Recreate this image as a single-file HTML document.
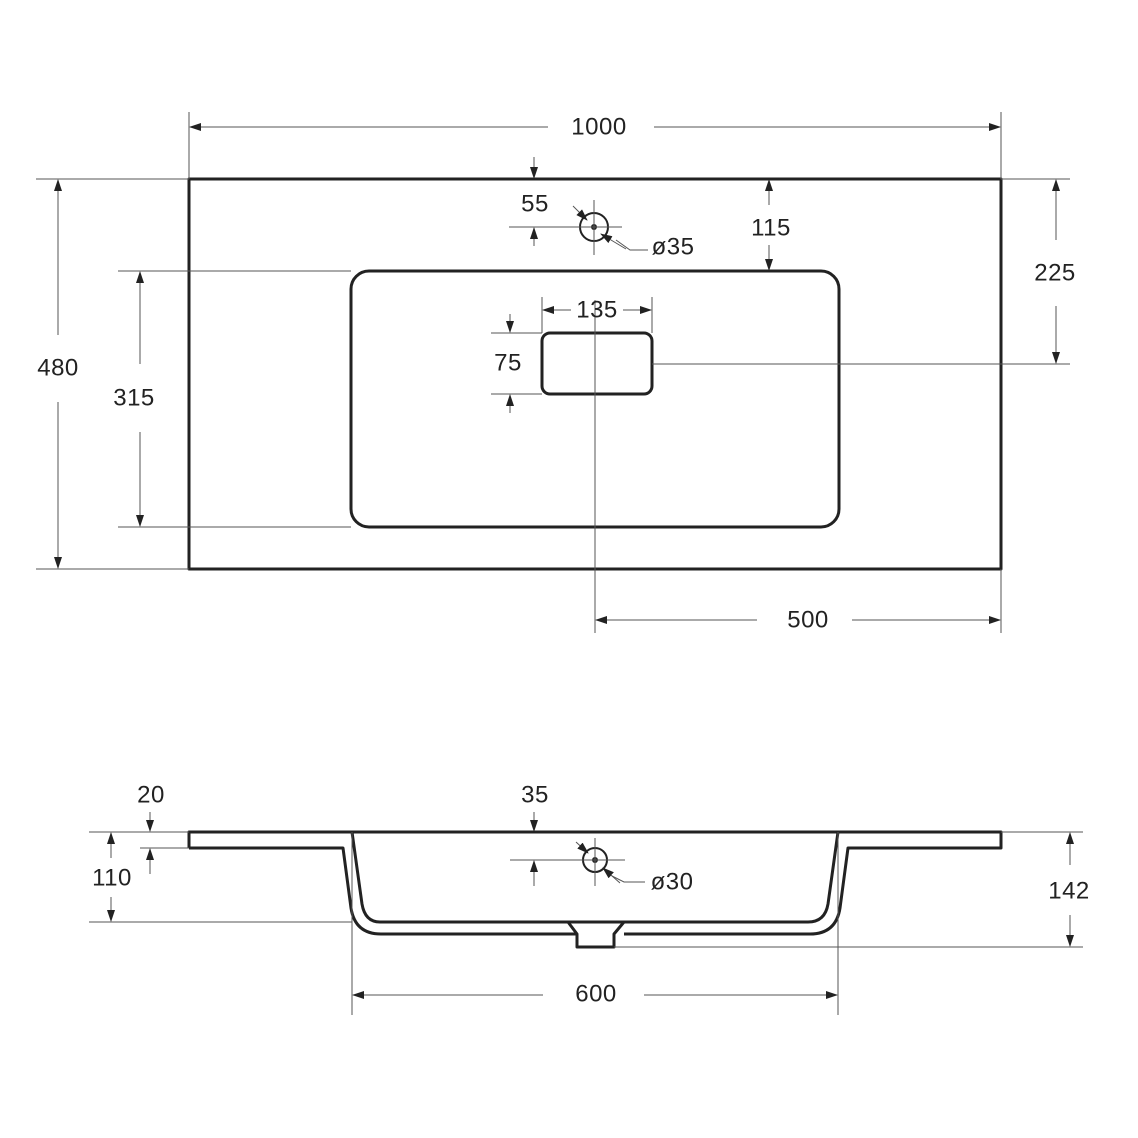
<!DOCTYPE html>
<html><head><meta charset="utf-8"><style>
html,body{margin:0;padding:0;background:#fff}
svg{display:block}
text{font-family:"Liberation Sans",sans-serif;font-size:24px;fill:#222;text-anchor:middle;dominant-baseline:central;letter-spacing:0.5px}
.t{stroke:#555;stroke-width:1;fill:none}
.k{stroke:#222;stroke-width:3;fill:none;stroke-linejoin:round}
</style></head><body>
<svg width="1138" height="1138" viewBox="0 0 1138 1138" xmlns="http://www.w3.org/2000/svg">
<defs>
<marker id="a" markerWidth="12" markerHeight="8" refX="11" refY="4" orient="auto-start-reverse" markerUnits="userSpaceOnUse"><path d="M0,0 L12,4 L0,8 Z" fill="#222"/></marker>
</defs>
<!-- TOP VIEW -->
<rect x="189" y="179" width="812" height="390" class="k"/>
<rect x="351" y="271" width="488" height="256" rx="18" class="k"/>
<rect x="542" y="333" width="110" height="61" rx="8" class="k"/>
<circle cx="594" cy="227" r="14" stroke="#222" stroke-width="2" fill="none"/>
<circle cx="594" cy="227" r="3" fill="#222"/>
<line x1="509" y1="227" x2="622" y2="227" class="t"/>
<line x1="594" y1="200" x2="594" y2="255" class="t"/>
<line x1="573" y1="206" x2="587" y2="220" class="t" marker-end="url(#a)"/>
<line x1="626" y1="249" x2="601" y2="234" class="t" marker-end="url(#a)"/>
<polyline points="616,240 630,250 648,250" class="t"/>
<text x="673" y="247">ø35</text>
<line x1="595" y1="300" x2="595" y2="633" class="t"/>
<line x1="652" y1="364" x2="1070" y2="364" class="t"/>
<!-- 1000 -->
<line x1="189" y1="112" x2="189" y2="179" class="t"/>
<line x1="1001" y1="112" x2="1001" y2="179" class="t"/>
<line x1="548" y1="127" x2="190" y2="127" class="t" marker-end="url(#a)"/>
<line x1="654" y1="127" x2="1000" y2="127" class="t" marker-end="url(#a)"/>
<text x="599" y="127">1000</text>
<!-- 480 -->
<line x1="36" y1="179" x2="189" y2="179" class="t"/>
<line x1="36" y1="569" x2="189" y2="569" class="t"/>
<line x1="58" y1="335" x2="58" y2="180" class="t" marker-end="url(#a)"/>
<line x1="58" y1="402" x2="58" y2="568" class="t" marker-end="url(#a)"/>
<text x="58" y="368">480</text>
<!-- 315 -->
<line x1="118" y1="271" x2="351" y2="271" class="t"/>
<line x1="118" y1="527" x2="351" y2="527" class="t"/>
<line x1="140" y1="364" x2="140" y2="272" class="t" marker-end="url(#a)"/>
<line x1="140" y1="432" x2="140" y2="526" class="t" marker-end="url(#a)"/>
<text x="134" y="398">315</text>
<!-- 225 -->
<line x1="1001" y1="179" x2="1070" y2="179" class="t"/>
<line x1="1056" y1="240" x2="1056" y2="180" class="t" marker-end="url(#a)"/>
<line x1="1056" y1="306" x2="1056" y2="363" class="t" marker-end="url(#a)"/>
<text x="1055" y="273">225</text>
<!-- 115 -->
<line x1="769" y1="205" x2="769" y2="180" class="t" marker-end="url(#a)"/>
<line x1="769" y1="245" x2="769" y2="270" class="t" marker-end="url(#a)"/>
<text x="771" y="228">115</text>
<!-- 55 -->
<line x1="534" y1="157" x2="534" y2="178" class="t" marker-end="url(#a)"/>
<line x1="534" y1="246" x2="534" y2="228" class="t" marker-end="url(#a)"/>
<text x="535" y="204">55</text>
<!-- 135 -->
<line x1="542" y1="297" x2="542" y2="333" class="t"/>
<line x1="652" y1="297" x2="652" y2="333" class="t"/>
<line x1="571" y1="310" x2="543" y2="310" class="t" marker-end="url(#a)"/>
<line x1="623" y1="310" x2="651" y2="310" class="t" marker-end="url(#a)"/>
<text x="597" y="310">135</text>
<!-- 75 -->
<line x1="491" y1="333" x2="542" y2="333" class="t"/>
<line x1="491" y1="394" x2="542" y2="394" class="t"/>
<line x1="510" y1="314" x2="510" y2="332" class="t" marker-end="url(#a)"/>
<line x1="510" y1="413" x2="510" y2="395" class="t" marker-end="url(#a)"/>
<text x="508" y="363">75</text>
<!-- 500 -->
<line x1="1001" y1="569" x2="1001" y2="633" class="t"/>
<line x1="757" y1="620" x2="596" y2="620" class="t" marker-end="url(#a)"/>
<line x1="852" y1="620" x2="1000" y2="620" class="t" marker-end="url(#a)"/>
<text x="808" y="620">500</text>

<!-- SIDE VIEW -->
<path class="k" d="M189,848 L189,832 L1001,832 L1001,848 L848,848 L840,908 Q836,934 810,934 L624,934"/>
<path class="k" d="M577,934 L381,934 Q355,934 351,908 L343,848 L189,848"/>
<path class="k" d="M352,832 L362,904 Q365,922 380,922 L808,922 Q825,922 828,904 L838,832"/>
<path class="k" d="M568,922 L577,934 L577,947 L614,947 L614,934 L624,922"/>
<circle cx="595" cy="860" r="12" stroke="#222" stroke-width="2" fill="none"/>
<circle cx="595" cy="860" r="3" fill="#222"/>
<line x1="510" y1="860" x2="625" y2="860" class="t"/>
<line x1="595" y1="838" x2="595" y2="886" class="t"/>
<line x1="576" y1="842" x2="588" y2="853" class="t" marker-end="url(#a)"/>
<line x1="620" y1="883" x2="603" y2="868" class="t" marker-end="url(#a)"/>
<polyline points="612,876 624,882 645,882" class="t"/>
<text x="672" y="882">ø30</text>
<!-- 20 -->
<line x1="89" y1="832" x2="189" y2="832" class="t"/>
<line x1="140" y1="848" x2="189" y2="848" class="t"/>
<line x1="150" y1="812" x2="150" y2="831" class="t" marker-end="url(#a)"/>
<line x1="150" y1="874" x2="150" y2="849" class="t" marker-end="url(#a)"/>
<text x="151" y="795">20</text>
<!-- 110 -->
<line x1="89" y1="922" x2="352" y2="922" class="t"/>
<line x1="111" y1="858" x2="111" y2="833" class="t" marker-end="url(#a)"/>
<line x1="111" y1="897" x2="111" y2="921" class="t" marker-end="url(#a)"/>
<text x="112" y="878">110</text>
<!-- 35 -->
<line x1="534" y1="812" x2="534" y2="831" class="t" marker-end="url(#a)"/>
<line x1="534" y1="886" x2="534" y2="861" class="t" marker-end="url(#a)"/>
<text x="535" y="795">35</text>
<!-- 142 -->
<line x1="1001" y1="832" x2="1083" y2="832" class="t"/>
<line x1="614" y1="947" x2="1083" y2="947" class="t"/>
<line x1="1070" y1="865" x2="1070" y2="833" class="t" marker-end="url(#a)"/>
<line x1="1070" y1="915" x2="1070" y2="946" class="t" marker-end="url(#a)"/>
<text x="1069" y="891">142</text>
<!-- 600 -->
<line x1="352" y1="832" x2="352" y2="1015" class="t"/>
<line x1="838" y1="832" x2="838" y2="1015" class="t"/>
<line x1="543" y1="995" x2="353" y2="995" class="t" marker-end="url(#a)"/>
<line x1="644" y1="995" x2="837" y2="995" class="t" marker-end="url(#a)"/>
<text x="596" y="994">600</text>
</svg>
</body></html>
